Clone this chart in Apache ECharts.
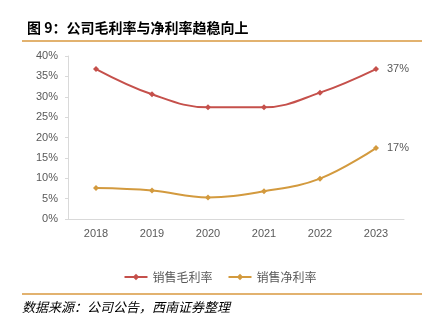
<!DOCTYPE html>
<html><head><meta charset="utf-8">
<script src="https://cdn.jsdelivr.net/npm/echarts@6/dist/echarts.min.js"></script>
<style>html,body{margin:0;padding:0;background:#fff}#c{width:440px;height:326px}</style>
</head><body><div id="c"></div>
<script>
var years = ['2018','2019','2020','2021','2022','2023'];
var grossMargin = [36.8, 30.6, 27.4, 27.4, 31.0, 36.8];
var netMargin = [7.6, 7.0, 5.3, 6.8, 9.9, 17.4];
var seriesNames = ['销售毛利率','销售净利率'];
var titleText = '图 9：公司毛利率与净利率趋稳向上';
var sourceText = '数据来源：公司公告，西南证券整理';

function endLabel(arr){
  return arr.map(function(v,i){
    return i===arr.length-1 ? {value:v,label:{show:true,position:'right',distance:8,formatter:function(p){return Math.round(p.value)+'%';},color:'#595959',fontSize:11,fontFamily:'Liberation Sans, Arial'}} : v;
  });
}
var chart = echarts.init(document.getElementById('c'));
chart.setOption({
  animation:false,
  textStyle:{fontFamily:'Liberation Sans, Arial'},
  title:{text:titleText,left:22,top:16,textStyle:{fontSize:14,fontWeight:'bold',color:'#000',fontFamily:'Noto Sans CJK SC'}},
  graphic:[
    {type:'line',shape:{x1:22,y1:41,x2:422,y2:41},style:{stroke:'#d9993f',lineWidth:1.5}},
    {type:'line',shape:{x1:22,y1:294,x2:422,y2:294},style:{stroke:'#d9993f',lineWidth:1.5}},
    {type:'text',left:22,top:301,style:{text:sourceText,font:'italic 13px "Noto Sans CJK SC"',fill:'#000'}}
  ],
  grid:{left:68,right:36,top:56,bottom:107,containLabel:false},
  legend:{bottom:38,left:'center',itemWidth:23,itemHeight:8,itemGap:15,
    textStyle:{color:'#595959',fontSize:12,fontFamily:'Noto Sans CJK SC'},
    data:seriesNames},
  xAxis:{type:'category',data:years,boundaryGap:true,
    axisLine:{lineStyle:{color:'#d9d9d9'}},axisTick:{show:false},
    axisLabel:{color:'#595959',fontSize:11,margin:9}},
  yAxis:{type:'value',min:0,max:40,interval:5,
    axisLine:{show:true,lineStyle:{color:'#d9d9d9'}},
    axisTick:{show:true,length:3,lineStyle:{color:'#d9d9d9'}},
    splitLine:{show:false},
    axisLabel:{color:'#595959',fontSize:11,margin:10,formatter:'{value}%'}},
  series:[
    {name:seriesNames[0],type:'line',smooth:0.4,data:endLabel(grossMargin),
      symbol:'diamond',symbolSize:6,lineStyle:{color:'#c5504b',width:2},itemStyle:{color:'#c5504b'}},
    {name:seriesNames[1],type:'line',smooth:0.4,data:endLabel(netMargin),
      symbol:'diamond',symbolSize:6,lineStyle:{color:'#d39a3e',width:2},itemStyle:{color:'#d39a3e'}}
  ]
});
</script></body></html>
